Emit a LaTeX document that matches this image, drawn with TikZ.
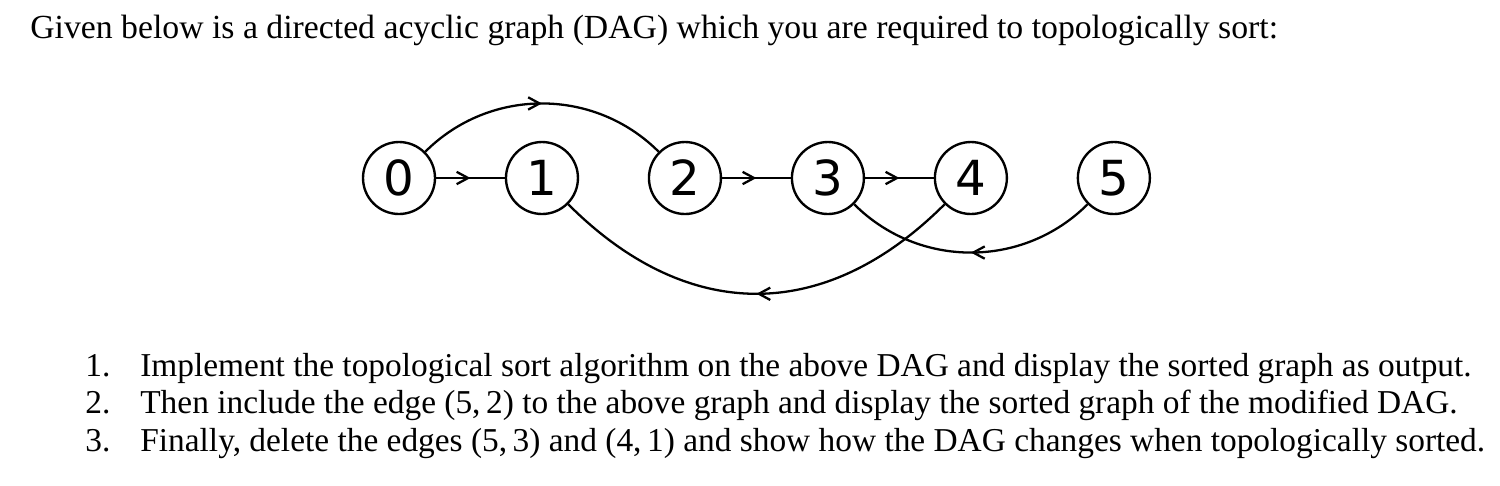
\documentclass[tikz,border=0pt]{standalone}
\usepackage{amsmath}
\usepackage{fontspec}
\setmainfont{Liberation Serif}
\newfontfamily\vertexfont{DejaVu Sans}
\usetikzlibrary{positioning}
\usetikzlibrary{arrows.meta}
\usetikzlibrary{decorations.markings}
\tikzset{	node distance=2.86cm, 
	vertex/.style={ 
		circle, draw,
		line width=1.35pt,
		minimum size=1.44cm,
		inner sep=0pt,
		font=\vertexfont\fontsize{27.5}{27.5}\selectfont},
	txt/.style={
		anchor=base west,
		inner sep=0pt,
		font=\fontsize{19.2}{24}\selectfont},
	item/.style={
		txt,
		font=\fontsize{19}{24}\selectfont},
	every edge/.style={  
		draw,
		line width=1.3pt,
		postaction={decorate},
		decoration={markings,
			mark=at position 0.5 with {\arrow{Straight Barb[length=6.5pt,width=7pt]}}}}
}

\begin{document}
\begin{tikzpicture}[x=0.02cm, y=-0.02cm]
				\useasboundingbox (0,0) rectangle (1500,485);
				\node[txt] (title) at (30,38) {Given below is a directed acyclic graph (DAG) which you are required to topologically sort:};
				\node[vertex] (n0) at (399,178) {0};
				\node[vertex, right of=n0] (n1) {1};
				\node[vertex, right of=n1] (n2) {2};
				\node[vertex, right of=n2] (n3) {3};
				\node[vertex, right of=n3] (n4) {4};
				\node[vertex, right of=n4] (n5) {5};
				\draw (n0) edge (n1);
				\draw (n2) edge (n3);
				\draw (n3) edge (n4);
				\draw (n0) edge[out=45, in=135] (n2);
				\draw (n4) edge[out=-135, in=-45, looseness=1.15] (n1);
				\draw (n5) edge[out=-135, in=-45] (n3);
				\node[item] (num1) at (85,376) {1.};
				\node[item] (num2) at (85,413) {2.};
				\node[item] (num3) at (85,451) {3.};
				\node[item] (item1) at (140,376) {Implement the topological sort algorithm on the above DAG and display the sorted graph as output.};
				\node[item] (item2) at (140,413) {Then include the edge (5,\,2) to the above graph and display the sorted graph of the modified DAG.};
				\node[item] (item3) at (140,451) {Finally, delete the edges (5,\,3) and (4,\,1) and show how the DAG changes when topologically sorted.};
			\end{tikzpicture}
\end{document}
